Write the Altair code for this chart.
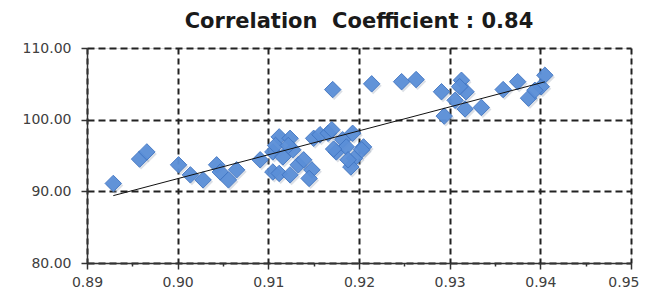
import altair as alt
import pandas as pd

# values
x_vals = [0.8929, 0.8958, 0.8966, 0.9001, 0.9014, 0.9028, 0.9043, 0.9047, 0.9056, 0.9065,
          0.9091, 0.9105, 0.9112, 0.9124, 0.9105, 0.9112, 0.9124, 0.9116, 0.9127, 0.9133,
          0.9139, 0.9148, 0.9145, 0.9150, 0.9157, 0.9166, 0.9170, 0.9171, 0.9175, 0.9182,
          0.9186, 0.9195, 0.9191, 0.9193, 0.9205, 0.9203, 0.9214, 0.9247, 0.9263, 0.9291,
          0.9294, 0.9306, 0.9313, 0.9318, 0.9317, 0.9335, 0.9359, 0.9375, 0.9387, 0.9401,
          0.9405, 0.9311, 0.9394, 0.9108, 0.9122, 0.9172, 0.9188]
y_vals = [91.1, 94.5, 95.5, 93.7, 92.3, 91.6, 93.7, 92.7, 91.6, 93.0,
          94.4, 95.5, 97.6, 97.4, 92.7, 92.5, 92.3, 94.8, 95.8, 93.7,
          94.4, 93.0, 91.8, 97.4, 97.9, 98.1, 98.6, 104.2, 95.5, 97.2,
          96.2, 94.6, 93.4, 98.1, 96.2, 95.8, 105.0, 105.3, 105.6, 103.9,
          100.5, 102.7, 105.5, 103.9, 101.5, 101.7, 104.2, 105.3, 103.0, 104.6,
          106.2, 104.6, 104.1, 96.4, 96.4, 95.9, 94.4]
x_ticks = [0.89, 0.895, 0.90, 0.905, 0.91, 0.915, 0.92, 0.925, 0.93, 0.935, 0.94, 0.945, 0.95]
y_ticks = [80, 85, 90, 95, 100, 105, 110]
title_text = "Correlation \u00a0Coefficient : 0.84"

df = pd.DataFrame({"x": x_vals, "y": y_vals})

FONT = "DejaVu Sans"
x_minor = "round(datum.value*1000) % 10 != 0"
x_last = "datum.value >= 0.9499"
y_minor = "datum.value % 10 != 0"

x_axis = alt.Axis(
    values=x_ticks, title=None, labelFont=FONT, labelFontSize=14, labelColor="#404040",
    labelExpr="round(datum.value*1000) % 10 == 0 ? format(datum.value, '.2f') : ''",
    labelOverlap=False, labelFlush=False, labelPadding=6,
    labelAlign={"condition": {"test": x_last, "value": "right"}, "value": "center"},
    labelOffset={"condition": {"test": x_last, "value": 8}, "value": 0},
    tickSize={"condition": {"test": x_minor, "value": 3}, "value": 6},
    tickColor="#333333", tickWidth=1.5,
    domainColor="#333333", domainWidth=1.5,
    grid=True, gridColor="#222222", gridWidth=2, gridDash=[6, 4],
    gridOpacity={"condition": {"test": x_minor, "value": 0}, "value": 1},
)
y_axis = alt.Axis(
    values=y_ticks, title=None, labelFont=FONT, labelFontSize=14, labelColor="#404040",
    labelExpr="datum.value % 10 == 0 ? format(datum.value, '.2f') : ''",
    labelOverlap=False, labelFlush=False, labelPadding=10,
    tickSize={"condition": {"test": y_minor, "value": 4}, "value": 6},
    tickColor="#333333", tickWidth=1.5,
    domainColor="#333333", domainWidth=1.5,
    grid=True, gridColor="#222222", gridWidth=2, gridDash=[7, 4],
    gridOpacity={"condition": {"test": y_minor, "value": 0}, "value": 1},
)

xs = alt.Scale(domain=[0.89, 0.95], nice=False, zero=False)
ys = alt.Scale(domain=[80, 110], nice=False, zero=False)

base = alt.Chart(df)

shadow = base.mark_point(
    shape="diamond", filled=True, size=290, color="#8a98ad", opacity=0.3,
    xOffset=1.5, yOffset=2
).encode(
    x=alt.X("x:Q", scale=xs, axis=x_axis),
    y=alt.Y("y:Q", scale=ys, axis=y_axis),
)

points = base.mark_point(
    shape="diamond", filled=True, size=270, fill="#5b8fd8", stroke="#4277c4",
    strokeWidth=1, opacity=0.95
).encode(x="x:Q", y="y:Q")

trend = base.transform_regression("x", "y").mark_line(
    color="#111111", strokeWidth=1
).encode(x="x:Q", y="y:Q")

chart = alt.layer(shadow, points, trend).properties(
    width=544, height=215,
    title=alt.TitleParams(
        text=title_text, font=FONT, fontSize=21, fontWeight="bold", color="#1a1a1a",
        anchor="middle", frame="group", offset=9
    ),
    autosize=alt.AutoSizeParams(type="none"),
    padding={"left": 79, "top": 40, "right": 9, "bottom": 30},
).configure_view(
    stroke="#333333", strokeWidth=1.5
).configure(background="white")

chart.save("out.html", embed_options={"renderer": "svg", "actions": False})
